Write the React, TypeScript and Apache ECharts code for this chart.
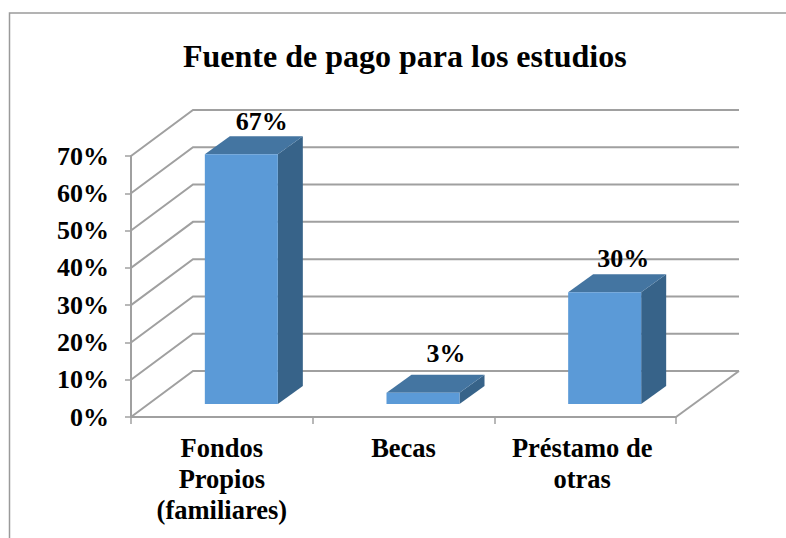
import React, { useEffect, useRef } from "react";
import * as echarts from "echarts";

const chartTitle = "Fuente de pago para los estudios";
const categories = ["Fondos\nPropios\n(familiares)", "Becas", "Préstamo de\notras"];
const shares = [67, 3, 30];
const yTicks = [0, 10, 20, 30, 40, 50, 60, 70];

const FONT = '"Liberation Serif", "Times New Roman", serif';
const GRAY = "#a0a0a0";
const WALL_DX = 62;
const WALL_DY = 46;
const BAR_W = 73;
const BAR_SHIFT = [19.5, 19.5, 19.5];
const BASE_LIFT = 13;
const DEPTH_DX = 25;
const DEPTH_DY = 18;
const LABEL_DX = [20.5, 23, 18.5];
const LABEL_DY = [-33, -39, -34];
const CATEGORY_PAD_RIGHT = [0, 0, 6];

export default function App() {
  const ref = useRef<HTMLDivElement>(null);
  useEffect(() => {
    document.body.style.margin = "0";
    const chart = echarts.init(ref.current!, null, { renderer: "svg" });
    chart.setOption({
      animation: false,
      backgroundColor: "#ffffff",
      title: {
        text: chartTitle,
        left: 183,
        top: 40,
        padding: 0,
        textStyle: { fontFamily: FONT, fontSize: 32, fontWeight: "bold", color: "#000" },
      },
      grid: { left: 131, top: 156, width: 545, height: 261, containLabel: false },
      xAxis: {
        type: "category",
        data: categories.map((value, i) => ({
          value,
          textStyle: { padding: [0, CATEGORY_PAD_RIGHT[i], 0, 0] },
        })),
        axisLine: { lineStyle: { color: GRAY, width: 2 } },
        axisTick: { show: true, alignWithLabel: false, length: 7, lineStyle: { color: GRAY, width: 1.5 } },
        axisLabel: {
          fontFamily: FONT,
          fontSize: 26.5,
          fontWeight: "bold",
          color: "#000",
          lineHeight: 31,
          margin: 15,
          interval: 0,
        },
      },
      yAxis: {
        type: "value",
        min: 0,
        max: 70,
        interval: 10,
        splitLine: { show: false },
        axisLine: { show: true, lineStyle: { color: GRAY, width: 2 } },
        axisTick: { show: true, length: 6, lineStyle: { color: GRAY, width: 1.5 } },
        axisLabel: {
          formatter: "{value}%",
          fontFamily: FONT,
          fontSize: 26,
          fontWeight: "bold",
          color: "#000",
          margin: 22,
        },
      },
      graphic: [
        {
          type: "polyline",
          silent: true,
          shape: { points: [[9.5, 538], [9.5, 13], [786, 13]] },
          style: { stroke: "#9a9a9a", lineWidth: 1.5, fill: "none" },
        },
      ],
      series: [
        {
          type: "custom",
          silent: true,
          z: 1,
          clip: false,
          data: yTicks.map((t) => [0, t]),
          renderItem: (params: any, api: any) => {
            const y = api.coord([0, api.value(1)])[1];
            const cs = params.coordSys;
            const x0 = cs.x;
            const x1 = cs.x + cs.width;
            const children: any[] = [
              {
                type: "polyline",
                shape: { points: [[x0, y], [x0 + WALL_DX, y - WALL_DY], [x1 + WALL_DX + 1, y - WALL_DY]] },
                style: { stroke: GRAY, lineWidth: 2, fill: "none" },
              },
            ];
            if (api.value(1) === 0) {
              children.push({
                type: "line",
                shape: { x1: x1, y1: y, x2: x1 + WALL_DX + 1, y2: y - WALL_DY },
                style: { stroke: GRAY, lineWidth: 2 },
              });
            }
            return { type: "group", children };
          },
        },
        {
          type: "custom",
          silent: true,
          z: 2,
          clip: false,
          data: shares.map((v, i) => [i, v]),
          renderItem: (_params: any, api: any) => {
            const i = api.value(0);
            const v = api.value(1);
            const cx = api.coord([i, 0])[0] + BAR_SHIFT[i];
            const base = api.coord([i, 0])[1] - BASE_LIFT;
            const top = base - (api.coord([i, 0])[1] - api.coord([i, v])[1]);
            const l = cx - BAR_W / 2;
            const r = cx + BAR_W / 2;
            return {
              type: "group",
              children: [
                {
                  type: "polygon",
                  shape: { points: [[r, top], [r + DEPTH_DX, top - DEPTH_DY], [r + DEPTH_DX, base - DEPTH_DY], [r, base]] },
                  style: { fill: "#376389" },
                },
                {
                  type: "polygon",
                  shape: { points: [[l, top], [l + DEPTH_DX, top - DEPTH_DY], [r + DEPTH_DX, top - DEPTH_DY], [r, top]] },
                  style: { fill: "#4475a1" },
                },
                {
                  type: "rect",
                  shape: { x: l, y: top, width: BAR_W, height: base - top },
                  style: { fill: "#5b9ad7" },
                },
                {
                  type: "text",
                  x: cx + LABEL_DX[i],
                  y: top + LABEL_DY[i],
                  style: {
                    text: v + "%",
                    fontFamily: FONT,
                    fontSize: 26,
                    fontWeight: "bold",
                    fill: "#000",
                    textAlign: "center",
                    textVerticalAlign: "middle",
                  },
                },
              ],
            };
          },
        },
      ],
    });
    return () => chart.dispose();
  }, []);
  return <div ref={ref} style={{ width: 786, height: 538 }} />;
}
